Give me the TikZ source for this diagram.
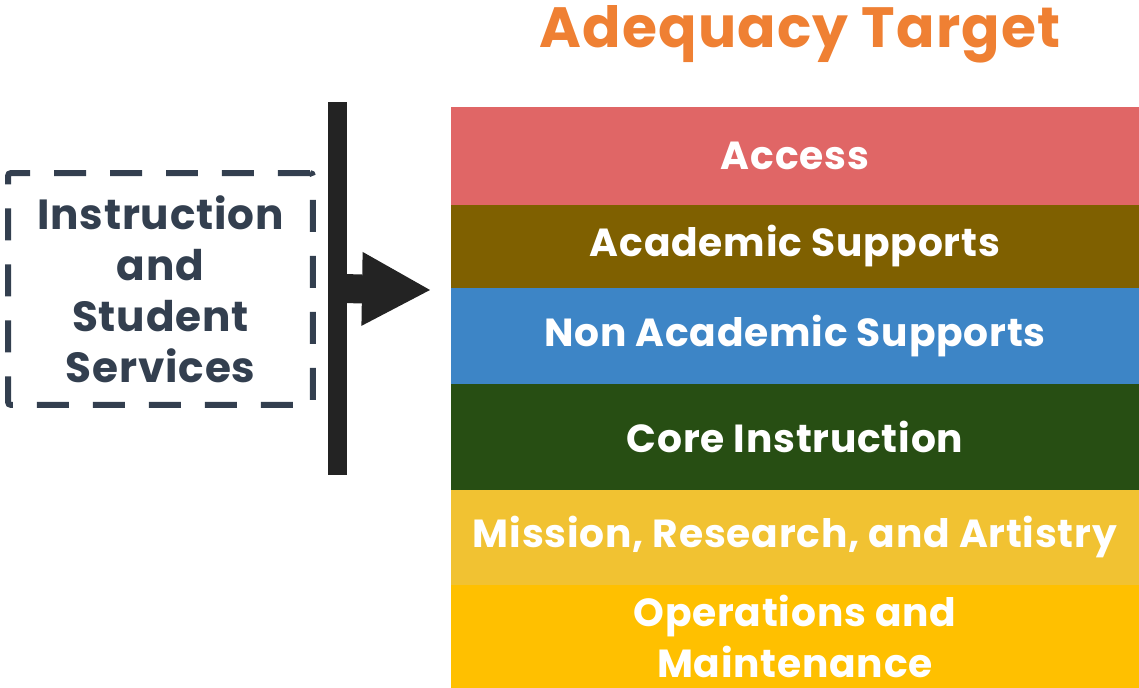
\documentclass[tikz,border=0pt]{standalone}
\usepackage{fontspec}
\setmainfont{Poppins}[LetterSpace=2]
\usepackage{xcolor}
\usetikzlibrary{positioning,arrows.meta}

\definecolor{accessred}{HTML}{E06666}
\definecolor{acadbrown}{HTML}{7F6000}
\definecolor{nonacblue}{HTML}{3D85C6}
\definecolor{coregreen}{HTML}{274E13}
\definecolor{missionyel}{HTML}{F1C232}
\definecolor{opsyel}{HTML}{FFC000}
\definecolor{titleorange}{HTML}{EF8033}
\definecolor{slate}{HTML}{333F4F}
\definecolor{barblack}{HTML}{232323}

\begin{document}
\begin{tikzpicture}[x=0.02cm,y=-0.02cm,
    band/.style={minimum width=13.76cm,inner sep=0pt,outer sep=0pt,text=white,
        align=center,font=\bfseries\fontsize{22.3pt}{29.5pt}\selectfont},
    source/.style={draw=slate,line width=0.12cm,dash pattern=on 0.64cm off 0.48cm,
        rounded corners=0.06cm,minimum width=6.1cm,minimum height=4.64cm,
        text=slate,align=center,font=\bfseries\fontsize{24pt}{29pt}\selectfont}]

    \useasboundingbox (0,0) rectangle (1139,688);

    % The target stack
	\node [band,fill=accessred,minimum height=1.96cm,anchor=north west] at (451,107) (access) {Access};
	\node [band,fill=acadbrown,minimum height=1.66cm,below=0pt of access] (acad) {Academic Supports};
	\node [band,fill=nonacblue,minimum height=1.92cm,below=0pt of acad] (nonacad) {Non Academic Supports};
	\node [band,fill=coregreen,minimum height=2.12cm,below=0pt of nonacad] (core) {Core Instruction};
	\node [band,fill=missionyel,minimum height=1.90cm,below=0pt of core] (mission) {Mission, Research, and Artistry};
	\node [band,fill=opsyel,minimum height=2.06cm,below=0pt of mission] (ops) {Operations and\\Maintenance};

	\node [text=titleorange,font=\bfseries\fontsize{32.3pt}{36pt}\selectfont] at (800,34) (title) {Adequacy Target};

    % Source box and bar
	\node [source] at (160.5,289) (services) {Instruction\\and\\Student\\Services};
	\node [fill=barblack,minimum width=0.38cm,minimum height=7.46cm,inner sep=0pt] at (337.5,288.5) (bar) {};
	\coordinate (tip) at (430,290);

	% Arrow
	\path[draw=barblack,line width=0.58cm,-{Triangle[length=1.36cm,width=1.48cm,line width=0pt]}]
	(bar.center) -- (tip);

\end{tikzpicture}
\end{document}
